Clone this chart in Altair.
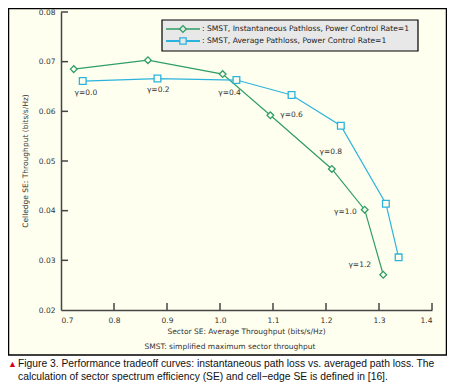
import altair as alt
import pandas as pd

# ---- data ----
inst_x = [0.724, 0.864, 1.005, 1.095, 1.211, 1.273, 1.308]
inst_y = [0.0685, 0.0703, 0.0675, 0.0592, 0.0484, 0.0402, 0.0271]
avg_x = [0.741, 0.882, 1.031, 1.135, 1.228, 1.313, 1.337]
avg_y = [0.0661, 0.0666, 0.0663, 0.0633, 0.0571, 0.0414, 0.0306]
series_names = ["SMST, Instantaneous Pathloss, Power Control Rate=1",
                "SMST, Average Pathloss, Power Control Rate=1"]
gamma_labels = ["γ=0.0", "γ=0.2", "γ=0.4", "γ=0.6", "γ=0.8", "γ=1.0", "γ=1.2"]
gamma_x = [0.747, 0.8835, 1.018, 1.135, 1.209, 1.2365, 1.2637]
gamma_y = [0.0637, 0.0643, 0.0637, 0.0593, 0.0518, 0.0398, 0.0290]
x_ticks = [0.8, 0.9, 1.0, 1.1, 1.2, 1.3, 1.4]
y_ticks = [0.03, 0.04, 0.05, 0.06, 0.07, 0.08]
x_title = "Sector SE: Average Throughput (bits/s/Hz)"
y_title = "Celledge SE: Throughput (bits/s/Hz)"
note = "SMST: simplified maximum sector throughput"
caption1 = "Figure 3. Performance tradeoff curves: instantaneous path loss vs. averaged path loss. The"
caption2 = "calculation of sector spectrum efficiency (SE) and cell\u2212edge SE is defined in [16]."

GREEN = "#2f9e64"
BLUE = "#2cb3dd"
CREAM = "#fffff0"
FONT = "DejaVu Sans"

df = pd.DataFrame({
    "series": [series_names[0]] * len(inst_x) + [series_names[1]] * len(avg_x),
    "x": inst_x + avg_x,
    "y": inst_y + avg_y,
    "order": list(range(len(inst_x))) + list(range(len(avg_x))),
})
lab = pd.DataFrame({"t": gamma_labels, "x": gamma_x, "y": gamma_y})
one = pd.DataFrame({"a": [0]})

xs = alt.Scale(domain=[0.7, 1.4], nice=False, zero=False)
ys = alt.Scale(domain=[0.02, 0.08], nice=False, zero=False)
xaxis = alt.Axis(values=[0.7] + x_ticks, format=".1f", title=None, grid=False, ticks=False,
                 labelPadding=6, domainColor="#444", domainWidth=1.5, zindex=2,
                 labelFont=FONT, labelFontSize=7.5, labelColor="#333")
yaxis = alt.Axis(values=[0.02] + y_ticks, format=".2f", title=None, grid=False, ticks=False,
                 labelPadding=6, domainColor="#444", domainWidth=1.5, zindex=2,
                 labelFont=FONT, labelFontSize=7.5, labelColor="#333")
cscale = alt.Scale(domain=series_names, range=[GREEN, BLUE])
sscale = alt.Scale(domain=series_names, range=["diamond", "square"])

frame = alt.Chart(one).mark_rect(fill=CREAM, stroke="black", strokeWidth=1.5).encode(
    x=alt.value(-52.5), x2=alt.value(385.5), y=alt.value(-3.5), y2=alt.value(343))

lines = alt.Chart(df).mark_line(strokeWidth=1.2).encode(
    x=alt.X("x:Q", scale=xs, axis=xaxis),
    y=alt.Y("y:Q", scale=ys, axis=yaxis),
    color=alt.Color("series:N", scale=cscale, legend=None),
    order="order:Q")

points = alt.Chart(df).mark_point(strokeWidth=1.3, opacity=1).encode(
    x=alt.X("x:Q", scale=xs, axis=xaxis),
    y=alt.Y("y:Q", scale=ys, axis=yaxis),
    stroke=alt.Stroke("series:N", scale=cscale, legend=None),
    shape=alt.Shape("series:N", scale=sscale, legend=None),
    size=alt.value(45),
    fill=alt.value(CREAM))

labels = alt.Chart(lab).mark_text(font=FONT, fontSize=7.5, color="#333",
                                  align="center", baseline="middle").encode(
    x=alt.X("x:Q", scale=xs, axis=xaxis),
    y=alt.Y("y:Q", scale=ys, axis=yaxis),
    text="t:N")

xt = alt.Chart(pd.DataFrame({"v": x_ticks})).mark_rule(color="#444", strokeWidth=1.5).encode(
    x=alt.X("v:Q", scale=xs, axis=xaxis), y=alt.value(298), y2=alt.value(291))
yt = alt.Chart(pd.DataFrame({"v": y_ticks})).mark_rule(color="#444", strokeWidth=1.5).encode(
    y=alt.Y("v:Q", scale=ys, axis=yaxis), x=alt.value(0), x2=alt.value(7))

# legend
leg_box = alt.Chart(one).mark_rect(fill="#e8e8e8", stroke="black", strokeWidth=1.2).encode(
    x=alt.value(101), x2=alt.value(357), y=alt.value(8), y2=alt.value(39))
leg1_line = alt.Chart(one).mark_rule(color=GREEN, strokeWidth=1.3).encode(
    x=alt.value(105), x2=alt.value(139), y=alt.value(17))
leg2_line = alt.Chart(one).mark_rule(color=BLUE, strokeWidth=1.8).encode(
    x=alt.value(105), x2=alt.value(139), y=alt.value(29))
leg1_pt = alt.Chart(one).mark_point(shape="diamond", size=45, stroke=GREEN, fill="#e8e8e8",
                                    strokeWidth=1.3, opacity=1).encode(
    x=alt.value(122), y=alt.value(17))
leg2_pt = alt.Chart(one).mark_point(shape="square", size=40, stroke=BLUE, fill="#e8e8e8",
                                    strokeWidth=1.3, opacity=1).encode(
    x=alt.value(122), y=alt.value(29))
leg1_t = alt.Chart(one).mark_text(text=": " + series_names[0], font=FONT, fontSize=7.6, color="#222",
                                  align="left", baseline="middle").encode(
    x=alt.value(141), y=alt.value(17))
leg2_t = alt.Chart(one).mark_text(text=": " + series_names[1], font=FONT, fontSize=7.6, color="#222",
                                  align="left", baseline="middle").encode(
    x=alt.value(141), y=alt.value(29))

# titles
xtitle = alt.Chart(one).mark_text(text=x_title, font=FONT, fontSize=7.5, color="#333",
                                  align="center", baseline="middle").encode(
    x=alt.value(185.5), y=alt.value(320))
ytitle = alt.Chart(one).mark_text(text=y_title, font=FONT, fontSize=7.5, color="#333",
                                  align="center", baseline="middle", angle=270).encode(
    x=alt.value(-35), y=alt.value(149))
note_t = alt.Chart(one).mark_text(text=note, font=FONT, fontSize=7.5, color="#333",
                                  align="center", baseline="middle").encode(
    x=alt.value(169), y=alt.value(335))

# caption
tri = alt.Chart(one).mark_text(text="\u25B2", font="Liberation Sans", fontSize=9, color="#d9001b",
                               align="left", baseline="middle").encode(
    x=alt.value(-53), y=alt.value(352))
cap1 = alt.Chart(one).mark_text(text=caption1, font="Liberation Sans", fontSize=10.3, color="#111",
                                align="left", baseline="middle").encode(
    x=alt.value(-43), y=alt.value(352))
cap2 = alt.Chart(one).mark_text(text=caption2, font="Liberation Sans", fontSize=10.3, color="#111",
                                align="left", baseline="middle").encode(
    x=alt.value(-43), y=alt.value(365))

chart = alt.layer(
    frame, lines, points, labels, xt, yt,
    leg_box, leg1_line, leg2_line, leg1_pt, leg2_pt, leg1_t, leg2_t,
    xtitle, ytitle, note_t, tri, cap1, cap2
).properties(
    width=371, height=298,
    autosize=alt.AutoSizeParams(type="none"),
    padding={"left": 53, "top": 4, "right": 15, "bottom": 74},
    background="white",
).configure_view(stroke=None)

chart.save("out.html", embed_options={"renderer": "svg", "actions": False})
